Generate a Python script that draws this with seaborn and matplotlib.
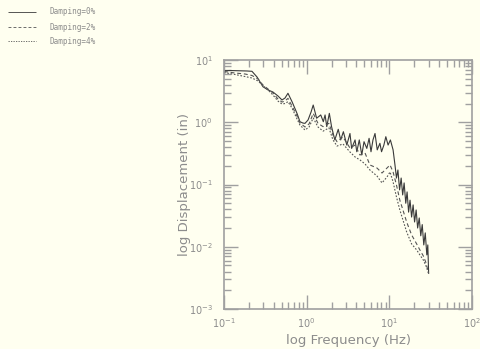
import numpy as np
import pandas as pd
import matplotlib
matplotlib.use("Agg")
import matplotlib.pyplot as plt
import seaborn as sns
from matplotlib.ticker import LogLocator, FuncFormatter

# ---- data ----
freq_0 = [0.100, 0.118, 0.156, 0.190, 0.218, 0.251, 0.296, 0.341, 0.391, 0.450,
          0.503, 0.547, 0.594, 0.665, 0.764, 0.830, 0.903, 0.955, 1.04, 1.13,
          1.20, 1.32, 1.48, 1.59, 1.67, 1.75, 1.88, 2.00, 2.19, 2.41,
          2.58, 2.78, 3.06, 3.34, 3.50, 3.85, 4.04, 4.33, 4.64, 4.94,
          5.34, 5.69, 6.00, 6.34, 6.71, 7.14, 7.69, 8.05, 8.59, 9.07,
          9.66, 10.3, 11.1, 11.7, 12.2, 12.7, 13.3, 13.9, 14.5, 15.1,
          15.8, 16.4, 17.1, 17.8, 18.6, 19.4, 20.2, 21.1, 22.0, 23.0,
          24.0, 25.0, 26.1, 27.2, 28.4, 29.2, 29.9]
disp_0 = [6.73, 6.78, 6.71, 6.66, 6.58, 5.33, 3.72, 3.30, 3.06, 2.64,
          2.28, 2.45, 2.92, 2.14, 1.39, 1.02, 0.97, 0.96, 1.09, 1.46,
          1.89, 1.16, 1.31, 1.02, 1.31, 0.85, 1.39, 0.85, 0.52, 0.77,
          0.52, 0.705, 0.43, 0.66, 0.38, 0.52, 0.336, 0.52, 0.298, 0.487,
          0.38, 0.552, 0.336, 0.52, 0.66, 0.36, 0.459, 0.336, 0.43, 0.586,
          0.43, 0.52, 0.36, 0.206, 0.127, 0.171, 0.082, 0.127, 0.068, 0.106,
          0.050, 0.076, 0.036, 0.056, 0.030, 0.047, 0.025, 0.039, 0.020, 0.029,
          0.015, 0.0227, 0.0107, 0.0167, 0.0074, 0.0107, 0.0037]

freq_24 = [0.100, 0.136, 0.179, 0.218, 0.258, 0.296, 0.341, 0.391, 0.450, 0.503,
           0.547, 0.594, 0.665, 0.764, 0.830, 0.955, 1.07, 1.20, 1.37, 1.58,
           1.86, 2.08, 2.33, 2.75, 3.34, 3.85, 4.41, 5.08, 5.82, 7.09,
           8.15, 9.37, 10.2, 11.1, 12.2, 13.4, 14.6, 16.2, 18.6, 21.4,
           23.4, 25.8, 27.8, 29.9]
disp_2 = [6.54, 6.18, 5.96, 5.64, 4.95, 3.97, 3.42, 2.95, 2.36, 2.11,
          2.19, 2.42, 1.82, 1.26, 0.97, 0.84, 0.94, 1.39, 0.96, 0.85,
          0.96, 0.624, 0.487, 0.58, 0.386, 0.43, 0.298, 0.321, 0.206, 0.184,
          0.153, 0.184, 0.206, 0.159, 0.098, 0.056, 0.039, 0.025, 0.0155, 0.0111,
          0.0089, 0.0071, 0.0055, 0.0037]
disp_4 = [6.30, 5.85, 5.43, 5.14, 4.60, 3.89, 3.30, 2.74, 2.19, 1.96,
          2.00, 2.14, 1.69, 1.13, 0.90, 0.75, 0.84, 1.17, 0.84, 0.72,
          0.81, 0.52, 0.415, 0.448, 0.333, 0.277, 0.248, 0.214, 0.171, 0.137,
          0.106, 0.132, 0.159, 0.110, 0.063, 0.039, 0.027, 0.0173, 0.0111, 0.0089,
          0.0074, 0.0061, 0.0049, 0.0037]

labels = ["Damping=0%", "Damping=2%", "Damping=4%"]
x_label = "log Frequency (Hz)"
y_label = "log Displacement (in)"

df = pd.concat([
    pd.DataFrame({"f": freq_0, "d": disp_0, "s": labels[0]}),
    pd.DataFrame({"f": freq_24, "d": disp_2, "s": labels[1]}),
    pd.DataFrame({"f": freq_24, "d": disp_4, "s": labels[2]}),
])

bg = "#FFFFF0"
grey = "#a0a0a0"
txt = "#8c8c8c"
sns.set_theme(style="ticks")
plt.rcParams["font.family"] = ["DejaVu Sans"]

fig = plt.figure(figsize=(4.81, 3.49), dpi=100, facecolor=bg)
ax = fig.add_axes([224/481, 1-309/349, (472-224)/481, (309-60)/349])
ax.set_facecolor(bg)

styles = {labels[0]: (0, ()), labels[1]: (0, (3.5, 2.5)), labels[2]: (0, (1.5, 1.5))}
colors = {labels[0]: "#3a3a3a", labels[1]: "#555555", labels[2]: "#555555"}
for lab in labels:
    sub = df[df["s"] == lab]
    sns.lineplot(data=sub, x="f", y="d", ax=ax, color=colors[lab],
                 linewidth=0.8, linestyle=styles[lab], estimator=None, sort=False,
                 legend=False)

ax.set_xscale("log")
ax.set_yscale("log")
ax.set_xlim(0.1, 100)
ax.set_ylim(1e-3, 10)

fmt = FuncFormatter(lambda v, p: r"$10^{%d}$" % int(round(np.log10(v))))
ax.xaxis.set_major_locator(LogLocator(base=10, numticks=10))
ax.yaxis.set_major_locator(LogLocator(base=10, numticks=10))
ax.xaxis.set_minor_locator(LogLocator(base=10, subs=np.arange(2, 10), numticks=20))
ax.yaxis.set_minor_locator(LogLocator(base=10, subs=np.arange(2, 10), numticks=20))
ax.xaxis.set_major_formatter(fmt)
ax.yaxis.set_major_formatter(fmt)

ax.tick_params(which="both", direction="in", top=True, right=True, color=grey,
               labelcolor=txt, labelsize=7)
ax.tick_params(which="major", length=10, width=1.0)
ax.tick_params(axis="x", which="major", pad=5)
ax.tick_params(axis="y", which="major", pad=8)
ax.tick_params(which="minor", length=5, width=1.0)
for sp in ax.spines.values():
    sp.set_color(grey)
    sp.set_linewidth(1.2)

ax.set_xlabel(x_label, color=txt, fontsize=9.5)
ax.set_ylabel(y_label, color=txt, fontsize=9.5)
ax.xaxis.set_label_coords(0.5, -0.10)
ax.yaxis.set_label_coords(-0.135, 0.5)

# legend in top-left figure corner
leg_y = [12, 27, 41]
for lab, yy in zip(labels, leg_y):
    yf = 1 - yy/349
    fig.add_artist(plt.Line2D([8/481, 36/481], [yf, yf], transform=fig.transFigure,
                              color=colors[lab], linewidth=0.6, linestyle=styles[lab]))
    fig.text(50/481, yf, lab, fontsize=5.5, color=txt, va="center", ha="left",
             family="DejaVu Sans Mono")

fig.savefig("out.png", dpi=100, facecolor=bg)
